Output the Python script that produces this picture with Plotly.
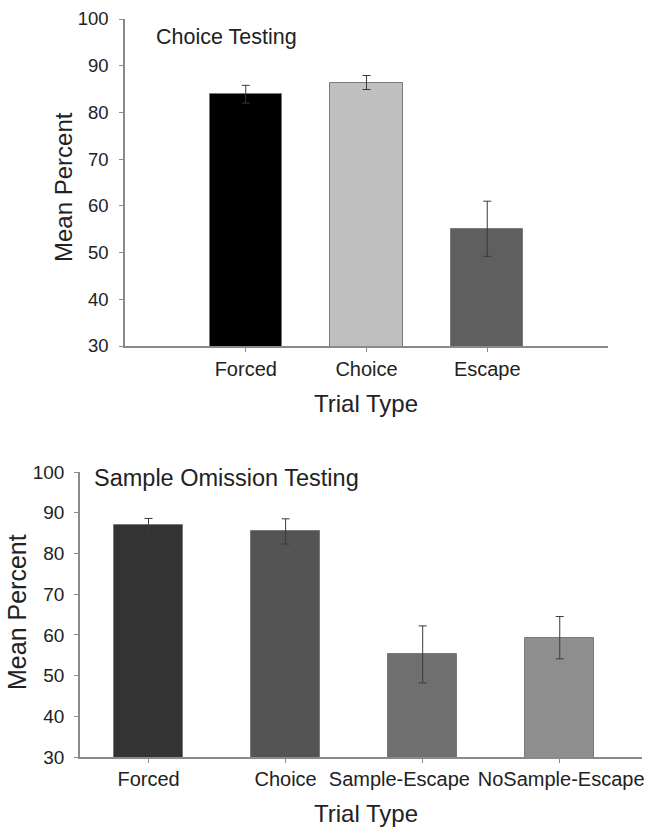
import plotly.graph_objects as go

# Top panel: Choice Testing
top_categories = ["Forced", "Choice", "Escape"]
top_values = [83.9, 86.4, 55.1]
top_errors = [1.9, 1.5, 5.9]
top_colors = ["#000000", "#c0c0c0", "#5f5f5f"]

# Bottom panel: Sample Omission Testing
bot_categories = ["Forced", "Choice", "Sample-Escape", "NoSample-Escape"]
bot_values = [86.9, 85.4, 55.2, 59.3]
bot_errors = [1.7, 3.1, 7.0, 5.2]
bot_colors = ["#333333", "#545454", "#6f6f6f", "#8e8e8e"]
# label positions (category units) - crowded labels are nudged apart as in the original
bot_label_pos = [0, 1, 1.83, 3.01]

y_ticks = [30, 40, 50, 60, 70, 80, 90, 100]

FONT = "Liberation Sans, Arial, sans-serif"
W, H = 647, 828

fig = go.Figure()

fig.add_trace(go.Bar(
    x=list(range(len(top_categories))), y=top_values, width=0.6,
    marker=dict(color=top_colors, line=dict(color="#7a7a7a", width=1)),
    error_y=dict(type="data", array=top_errors, visible=True, color="#3a3a3a",
                 thickness=1, width=4),
    xaxis="x", yaxis="y", showlegend=False,
))
fig.add_trace(go.Bar(
    x=list(range(len(bot_categories))), y=bot_values, width=0.5,
    marker=dict(color=bot_colors, line=dict(color="#7a7a7a", width=1)),
    error_y=dict(type="data", array=bot_errors, visible=True, color="#3a3a3a",
                 thickness=1, width=4),
    xaxis="x2", yaxis="y2", showlegend=False,
))

def px_x(p):
    return p / W

def px_y(p):
    return 1 - p / H

TXT = "#222222"
axis_common = dict(showline=True, linecolor="#8a8a8a", linewidth=1.5,
                   ticks="outside", tickcolor="#8a8a8a", ticklen=4,
                   showgrid=False, zeroline=False, automargin=False)

fig.update_layout(
    width=W, height=H,
    margin=dict(l=0, r=0, t=0, b=0),
    paper_bgcolor="white", plot_bgcolor="white",
    font=dict(family=FONT, color=TXT),
    bargap=0,
    xaxis=dict(domain=[px_x(125), px_x(608)], range=[-1, 3], anchor="y",
               tickmode="array", tickvals=list(range(len(top_categories))),
               ticktext=top_categories, tickangle=0, ticklabelstandoff=0,
               tickfont=dict(family=FONT, size=20, color=TXT), **axis_common),
    yaxis=dict(domain=[px_y(346), px_y(19)], range=[30, 100], anchor="x",
               tickmode="array", tickvals=y_ticks, ticklabelstandoff=7,
               tickfont=dict(family=FONT, size=18.5, color=TXT), **axis_common),
    xaxis2=dict(domain=[px_x(80), px_x(642)], range=[-0.5, 3.6], anchor="y2",
                tickmode="array", tickvals=list(range(len(bot_categories))),
                showticklabels=False, **axis_common),
    xaxis3=dict(domain=[px_x(80), px_x(642)], range=[-0.5, 3.6], anchor="y2",
                overlaying="x2", showline=False, showgrid=False, zeroline=False,
                automargin=False,
                ticks="", tickmode="array", tickvals=bot_label_pos,
                ticktext=bot_categories, tickangle=0, ticklabelstandoff=8,
                tickfont=dict(family=FONT, size=20, color=TXT)),
    yaxis2=dict(domain=[px_y(757), px_y(472)], range=[30, 100], anchor="x2",
                tickmode="array", tickvals=y_ticks, ticklabelstandoff=6,
                tickfont=dict(family=FONT, size=19, color=TXT), **axis_common),
)
# invisible trace to activate the label axis
fig.add_trace(go.Scatter(x=[bot_label_pos[0]], y=[30], xaxis="x3", yaxis="y2",
                         mode="markers", marker=dict(opacity=0), showlegend=False,
                         hoverinfo="skip"))

annotations = [
    dict(text="Choice Testing", x=px_x(154), y=px_y(37), xanchor="left", yanchor="middle",
         font=dict(size=21.5)),
    dict(text="Mean Percent", x=px_x(63), y=px_y(187), textangle=-90, xanchor="center",
         yanchor="middle", font=dict(size=24)),
    dict(text="Trial Type", x=px_x(366), y=px_y(404), xanchor="center", yanchor="middle",
         font=dict(size=24)),
    dict(text="Sample Omission Testing", x=px_x(92), y=px_y(478), xanchor="left",
         yanchor="middle", font=dict(size=23.5)),
    dict(text="Mean Percent", x=px_x(17), y=px_y(612), textangle=-90, xanchor="center",
         yanchor="middle", font=dict(size=25)),
    dict(text="Trial Type", x=px_x(366), y=px_y(813), xanchor="center", yanchor="middle",
         font=dict(size=24)),
]
for a in annotations:
    a.update(xref="paper", yref="paper", showarrow=False)
    a["font"] = dict(family=FONT, color=TXT, **a["font"])
fig.update_layout(annotations=annotations)

fig.write_html("out.html")
